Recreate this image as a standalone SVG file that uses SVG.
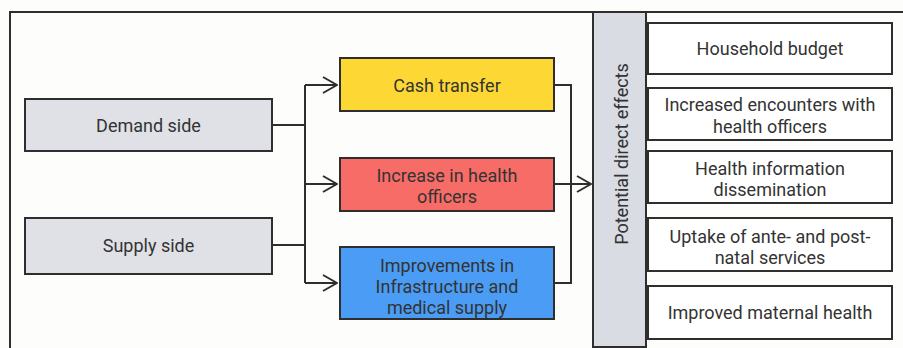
<svg xmlns="http://www.w3.org/2000/svg" width="903" height="348" viewBox="0 0 903 348">
  <defs>
    <style>
      .box { stroke: #2e2e2e; stroke-width: 2; }
      .gray { fill: #dfe1e6; }
      .white { fill: #ffffff; }
      .lbl { font-family: Roboto, "Liberation Sans", sans-serif; font-size: 18px; fill: #333333; text-anchor: middle; }
      .wire { fill: none; stroke: #2e2e2e; stroke-width: 2; }
    </style>
    <marker id="chev" viewBox="0 0 16 18" refX="15" refY="9" markerWidth="16" markerHeight="18" markerUnits="userSpaceOnUse" orient="auto">
      <path d="M1,1 L15,9 L1,17" fill="none" stroke="#2e2e2e" stroke-width="2"/>
    </marker>
  </defs>

  <rect width="903" height="348" fill="#fdfdfc"/>

  <!-- outer frame -->
  <path d="M10,348 V12 H903" fill="none" stroke="#2e2e2e" stroke-width="2"/>

  <g id="connectors">
    <path class="wire" d="M272,125 H305"/>
    <path class="wire" d="M272,245 H305"/>
    <path class="wire" d="M305,85 V283"/>
    <path class="wire" d="M305,85 H337" marker-end="url(#chev)"/>
    <path class="wire" d="M305,184 H337" marker-end="url(#chev)"/>
    <path class="wire" d="M305,283 H337" marker-end="url(#chev)"/>
    <path class="wire" d="M554,85 H571 V283 H554"/>
    <path class="wire" d="M554,184 H591" marker-end="url(#chev)"/>
  </g>

  <g id="demand">
    <rect class="box gray" x="25" y="99" width="247" height="52"/>
    <text class="lbl" x="148.5" y="131.5">Demand side</text>
  </g>
  <g id="supply">
    <rect class="box gray" x="25" y="218" width="247" height="56"/>
    <text class="lbl" x="148.5" y="251.5">Supply side</text>
  </g>

  <g id="cash">
    <rect class="box" fill="#fdd835" x="340" y="58" width="214" height="53"/>
    <text class="lbl" x="447" y="91.5">Cash transfer</text>
  </g>
  <g id="officers">
    <rect class="box" fill="#f86c67" x="340" y="158" width="214" height="53"/>
    <text class="lbl" x="447" y="181.5">Increase in health</text>
    <text class="lbl" x="447" y="202.5">officers</text>
  </g>
  <g id="infrastructure">
    <rect class="box" fill="#4a9cf5" x="340" y="247" width="214" height="72"/>
    <text class="lbl" x="447" y="271.5">Improvements in</text>
    <text class="lbl" x="447" y="292.5">Infrastructure and</text>
    <text class="lbl" x="447" y="313.5">medical supply</text>
  </g>

  <g id="effects">
    <rect class="box" fill="#d9dce3" x="593" y="12" width="53" height="335"/>
    <text class="lbl" transform="translate(628,154) rotate(-90)" x="0" y="0">Potential direct effects</text>
  </g>

  <g id="budget">
    <rect class="box white" x="648" y="23" width="244" height="51"/>
    <text class="lbl" x="770" y="54.5">Household budget</text>
  </g>
  <g id="encounters">
    <rect class="box white" x="648" y="88" width="244" height="52"/>
    <text class="lbl" x="770" y="110.5">Increased encounters with</text>
    <text class="lbl" x="770" y="132.5">health officers</text>
  </g>
  <g id="information">
    <rect class="box white" x="648" y="151" width="244" height="52"/>
    <text class="lbl" x="770" y="174.5">Health information</text>
    <text class="lbl" x="770" y="195.5">dissemination</text>
  </g>
  <g id="uptake">
    <rect class="box white" x="648" y="218" width="244" height="53"/>
    <text class="lbl" x="770" y="242.5">Uptake of ante- and post-</text>
    <text class="lbl" x="770" y="263.5">natal services</text>
  </g>
  <g id="maternal">
    <rect class="box white" x="648" y="286" width="244" height="53"/>
    <text class="lbl" x="770" y="318.5">Improved maternal health</text>
  </g>
</svg>
